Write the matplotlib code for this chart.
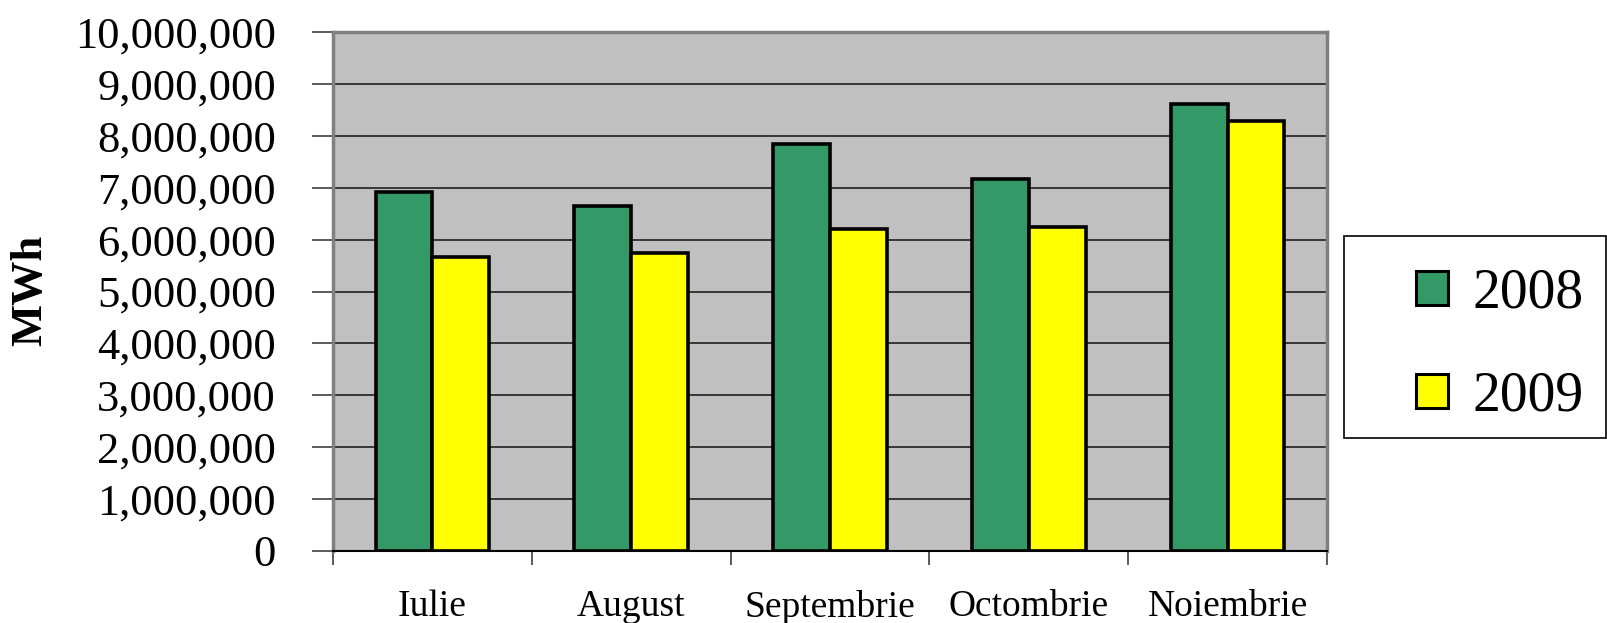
import matplotlib.pyplot as plt
import numpy as np
from matplotlib.patches import Rectangle
from matplotlib.ticker import FuncFormatter, MultipleLocator, FixedLocator

luni = ['Iulie', 'August', 'Septembrie', 'Octombrie', 'Noiembrie']
val_2008 = [6910000, 6650000, 7850000, 7170000, 8620000]
val_2009 = [5660000, 5740000, 6200000, 6250000, 8290000]
ani = ['2008', '2009']

plt.rcParams['font.family'] = ['Liberation Serif', 'DejaVu Serif']

fig = plt.figure(figsize=(16.08, 6.23), dpi=100)
W, H = 1608, 623
# zona graficului (in pixeli)
left, right, top, bottom = 333, 1327, 32, 551
ax = fig.add_axes([left / W, 1 - bottom / H, (right - left) / W, (bottom - top) / H])
ax.set_facecolor('#C0C0C0')

x = np.arange(len(luni))
w = 1 / 3.5
ax.bar(x - w / 2, val_2008, w, color='#339966', edgecolor='black', linewidth=2.6, label=ani[0], zorder=3)
ax.bar(x + w / 2, val_2009, w, color='#FFFF00', edgecolor='black', linewidth=2.6, label=ani[1], zorder=3)

ax.set_xlim(-0.5, len(luni) - 0.5)
ax.set_ylim(0, 10000000)
ax.yaxis.set_major_locator(MultipleLocator(1000000))
ax.yaxis.set_major_formatter(FuncFormatter(lambda v, p: f'{v:,.0f}'))
ax.grid(axis='y', color='#202020', linewidth=1.2, zorder=1)

# tick-uri intre categorii, etichete in centru
ax.xaxis.set_major_locator(FixedLocator(np.arange(len(luni) + 1) - 0.5))
ax.xaxis.set_major_formatter(FuncFormatter(lambda v, p: ''))
ax.xaxis.set_minor_locator(FixedLocator(x))
ax.set_xticks(x, luni, minor=True)
ax.tick_params(axis='x', which='major', direction='out', length=10, width=1.2, color='#404040')
ax.tick_params(axis='x', which='minor', length=0, pad=28, labelsize=27)
ax.tick_params(axis='y', direction='out', length=15, width=1.2, color='#404040', pad=26, labelsize=32)

for s in ['left', 'top', 'right']:
    ax.spines[s].set_color('#808080')
    ax.spines[s].set_linewidth(2.5)
ax.spines['bottom'].set_color('black')
ax.spines['bottom'].set_linewidth(1.5)
ax.spines['bottom'].set_zorder(4)

fig.text(30 / W, 1 - 290 / H, 'MWh', rotation=90, fontsize=32, fontweight='bold',
         ha='center', va='center')

# legenda
fig.patches.append(Rectangle((1344 / W, 1 - 438 / H), (1606 - 1344) / W, (438 - 236) / H,
                             transform=fig.transFigure, facecolor='white',
                             edgecolor='black', linewidth=1.2))
leg = fig.legend(loc='center left', bbox_to_anchor=(1388 / W, 1 - 345 / H), frameon=False,
                 fontsize=40, handlelength=0.58, handleheight=0.58, handletextpad=0.45,
                 labelspacing=0.92, borderpad=0)
for p in leg.get_patches():
    p.set_linewidth(2.2)

fig.savefig('out.png', dpi=100)
